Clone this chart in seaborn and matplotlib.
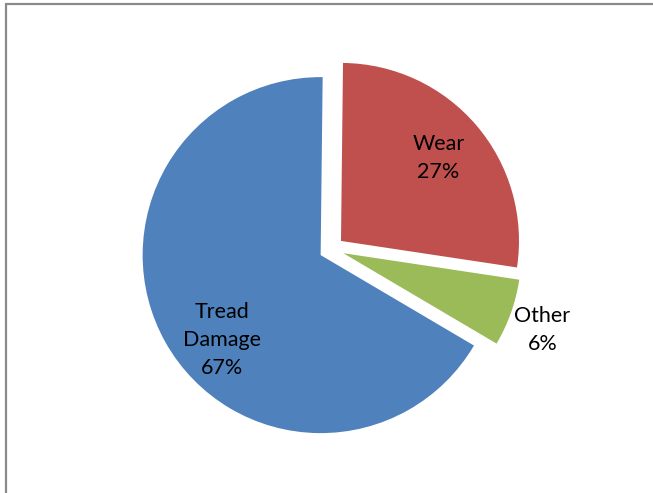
import numpy as np
import matplotlib
matplotlib.use("Agg")
import matplotlib.pyplot as plt
import seaborn as sns
from matplotlib.lines import Line2D

categories = ["Wear", "Other", "Tread\nDamage"]
values = [27.2, 6.1, 66.7]
pct_labels = ["27%", "6%", "67%"]
colors = ["#C0504D", "#9BBB59", "#4F81BD"]

sns.set_theme(style="white")
plt.rcParams['font.family'] = ['Lato', 'DejaVu Sans']

W, H, DPI = 653, 493, 100
fig = plt.figure(figsize=(W / DPI, H / DPI), dpi=DPI)
ax = fig.add_axes([0, 0, 1, 1])

R = 178.0
cx, cy = 331.5, 249.0
explode = [0.07, 0.07, 0.07]

wedges, _ = ax.pie(values, colors=colors, startangle=89.35, counterclock=False,
                   explode=explode, radius=1.0,
                   wedgeprops=dict(linewidth=0, edgecolor="none"))

# label distances (from exploded wedge centre) and angle shifts
label_dist = [0.72, 1.20, 0.731]
label_shift = [0.0, -1.6, 11.4]
for w, cat, pct, ex, d, sh in zip(wedges, categories, pct_labels, explode,
                                    label_dist, label_shift):
    tm = np.deg2rad((w.theta1 + w.theta2) / 2)
    ox, oy = ex * np.cos(tm), ex * np.sin(tm)
    tl = tm + np.deg2rad(sh)
    x = ox + d * np.cos(tl)
    y = oy + d * np.sin(tl)
    ax.text(x, y, f"{cat}\n{pct}", ha="center", va="center",
            fontsize=15.5, color="black", linespacing=1.5)

ax.set_xlim(-cx / R, (W - cx) / R)
ax.set_ylim(-(H - cy) / R, cy / R)
ax.set_aspect("equal")
ax.axis("off")

# outer chart frame (partially cropped in reference)
fc = "#8a8a8a"
fig.add_artist(Line2D([5.5 / W, 1.0], [1 - 3.5 / H, 1 - 3.5 / H],
                      transform=fig.transFigure, color=fc, lw=1.6))
fig.add_artist(Line2D([5.5 / W, 5.5 / W], [0.0, 1 - 3.5 / H],
                      transform=fig.transFigure, color=fc, lw=1.6))

fig.savefig("out.png", dpi=DPI, facecolor="white")
